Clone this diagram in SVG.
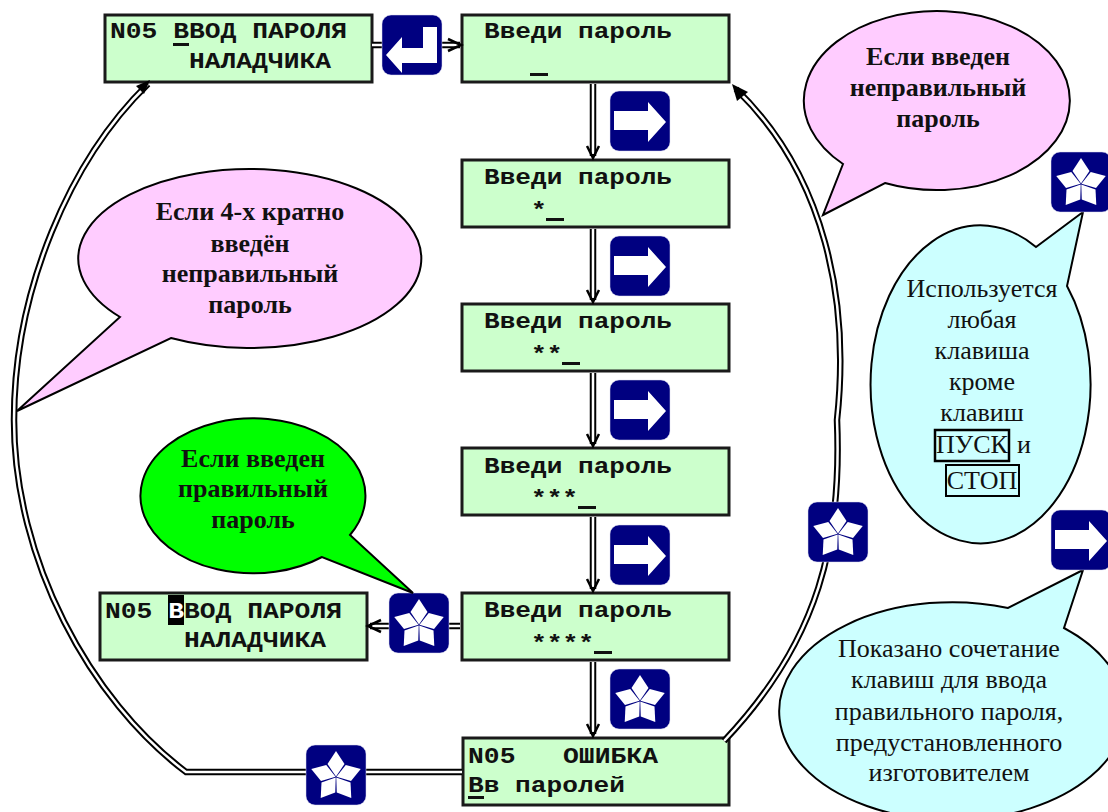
<svg xmlns="http://www.w3.org/2000/svg" width="1108" height="812" viewBox="0 0 1108 812">
<style>
.box{fill:#ccffcc;stroke:#1a1a1a;stroke-width:3}
.m{font-family:"Liberation Mono",monospace;font-weight:bold;font-size:22px;fill:#111;white-space:pre}
.b{font-family:"Liberation Serif",serif;font-weight:bold;font-size:26px;fill:#111;text-anchor:middle}
.r{font-family:"Liberation Serif",serif;font-size:26px;fill:#111;text-anchor:middle}
.o{fill:none;stroke:#000;stroke-width:6.5}
.i{fill:none;stroke:#fff;stroke-width:2.5}
.c{stroke:#000;stroke-width:2}
.k{fill:#000080;stroke:#d8d8ee;stroke-width:.5}
.w{fill:#fff}
.h{fill:none;stroke:#000;stroke-width:2.5}
.u{fill:#111}
</style>
<defs>
<g id="star"><rect class="k" x="0" y="0" width="60" height="60" rx="9"/>
<path id="kite" class="w" d="M30 31.5L21.5 19L30 6L38.5 19Z"/>
<use href="#kite" transform="rotate(72 30 32)"/>
<use href="#kite" transform="rotate(144 30 32)"/>
<use href="#kite" transform="rotate(216 30 32)"/>
<use href="#kite" transform="rotate(288 30 32)"/></g>
<g id="right"><rect class="k" x="0" y="0" width="60" height="60" rx="9"/>
<path class="w" d="M4 20H38V11L56 31L38 51V39H4Z"/></g>
<g id="enter"><rect class="k" x="0" y="0" width="60" height="60" rx="9"/>
<path class="w" d="M55 12V48H20V58L4 40L20 22V33H41V12Z"/></g>
</defs>
<g id="n1"><rect class="box" x="105" y="15" width="267" height="67"/>
<text class="m" x="110" y="38" textLength="237" lengthAdjust="spacingAndGlyphs">N05 ВВОД ПАРОЛЯ</text><text class="m" x="189" y="68" textLength="142" lengthAdjust="spacingAndGlyphs">НАЛАДЧИКА</text>
<rect class="u" x="173" y="43" width="16" height="3"/></g>
<g id="n2"><rect class="box" x="462" y="15" width="267" height="67"/>
<text class="m" x="484" y="38" textLength="188" lengthAdjust="spacingAndGlyphs">Введи пароль</text><rect class="u" x="530" y="73" width="18" height="3"/></g>
<g id="n3"><rect class="box" x="462" y="160" width="267" height="67"/>
<text class="m" x="484" y="184" textLength="188" lengthAdjust="spacingAndGlyphs">Введи пароль</text><text class="m" x="531" y="217" textLength="15.7" lengthAdjust="spacingAndGlyphs">*</text><rect class="u" x="546" y="218" width="18" height="3"/></g>
<g id="n4"><rect class="box" x="462" y="304" width="267" height="67"/>
<text class="m" x="484" y="328" textLength="188" lengthAdjust="spacingAndGlyphs">Введи пароль</text><text class="m" x="531" y="361" textLength="31.4" lengthAdjust="spacingAndGlyphs">**</text><rect class="u" x="562" y="362" width="18" height="3"/></g>
<g id="n5"><rect class="box" x="462" y="448" width="267" height="67"/>
<text class="m" x="484" y="473" textLength="188" lengthAdjust="spacingAndGlyphs">Введи пароль</text><text class="m" x="531" y="505" textLength="47" lengthAdjust="spacingAndGlyphs">***</text><rect class="u" x="578" y="506" width="18" height="3"/></g>
<g id="n6"><rect class="box" x="462" y="593" width="267" height="67"/>
<text class="m" x="484" y="617" textLength="188" lengthAdjust="spacingAndGlyphs">Введи пароль</text><text class="m" x="531" y="650" textLength="63" lengthAdjust="spacingAndGlyphs">****</text><rect class="u" x="594" y="651" width="18" height="3"/></g>
<g id="n7"><rect class="box" x="463" y="738" width="266" height="67"/>
<text class="m" x="468" y="763" textLength="190" lengthAdjust="spacingAndGlyphs">N05   ОШИБКА</text><text class="m" x="468" y="792" textLength="157" lengthAdjust="spacingAndGlyphs">Вв паролей</text><rect class="u" x="468" y="796" width="16" height="3"/></g>
<g id="n8"><rect class="box" x="100" y="593" width="267" height="67"/>
<rect x="168" y="595" width="16" height="30" fill="#000"/>
<text class="m" x="105" y="618" textLength="237" lengthAdjust="spacingAndGlyphs">N05 <tspan fill="#fff">В</tspan>ВОД ПАРОЛЯ</text><text class="m" x="184" y="647" textLength="142" lengthAdjust="spacingAndGlyphs">НАЛАДЧИКА</text></g>
<g id="connectors">
<path class="o" d="M148 84C70 160 14 290 14 420C14 560 90 700 186 772H462"/>
<path class="i" d="M148 84C70 160 14 290 14 420C14 560 90 700 186 772H462"/>
<path class="o" d="M724 741C820 640 842 540 837 420C850 300 825 175 736 89"/>
<path class="i" d="M724 741C820 640 842 540 837 420C850 300 825 175 736 89"/>
<path fill="#000" d="M150 80L136 86L144 94Z"/>
<path fill="#000" d="M732 84L737 101L748 92Z"/>
<path class="o" d="M372 45H460M593 84V156M593 229V300M593 373V444M593 517V589M593 662V734M460 626H370"/>
<path class="i" d="M372 45H458M593 84V154M593 229V298M593 373V442M593 517V587M593 662V732M460 626H372"/>
<path class="h" d="M448 39L461 45L448 51M587 146L593 158L599 146M587 290L593 302L599 290M587 434L593 446L599 434M587 579L593 591L599 579M587 724L593 736L599 724M381 620L368 626L381 632"/>
</g>
<g id="keys">
<use href="#enter" x="382" y="15"/>
<use href="#right" x="610" y="91"/>
<use href="#right" x="610" y="236"/>
<use href="#right" x="610" y="380"/>
<use href="#right" x="610" y="525"/>
<use href="#star" x="610" y="669"/>
<use href="#star" x="389" y="593"/>
<use href="#star" x="306" y="745"/>
<use href="#star" x="808" y="502"/>
</g>
<g id="c1"><path class="c" fill="#ffccff" d="M823 215L885 183A133 89.5 0 1 0 843 164Z"/>
<text class="b" x="938" y="65">Если введен</text><text class="b" x="938" y="96">неправильный</text><text class="b" x="938" y="127">пароль</text></g>
<g id="c2"><path class="c" fill="#ffccff" d="M17 411L120 317A171.5 89.5 0 1 1 171 338Z"/>
<text class="b" x="250" y="220">Если 4-х кратно</text><text class="b" x="250" y="252">введён</text><text class="b" x="250" y="282">неправильный</text><text class="b" x="250" y="313">пароль</text></g>
<g id="c3"><path class="c" fill="#00ff00" d="M413 593L322 557A112.5 77.5 0 1 1 350 535Z"/>
<text class="b" x="253" y="467">Если введен</text><text class="b" x="253" y="497">правильный</text><text class="b" x="253" y="528">пароль</text></g>
<g id="c4"><path class="c" fill="#ccffff" d="M1083 212L1036 247A110 159 0 1 0 1067 286Z"/>
<text class="r" x="982" y="297">Используется</text><text class="r" x="982" y="328">любая</text><text class="r" x="982" y="359">клавиша</text><text class="r" x="982" y="390">кроме</text><text class="r" x="982" y="421">клавиш</text>
<text class="r" x="972" y="453">ПУСК</text><text class="r" x="1024" y="453">и</text><text class="r" x="982" y="489">СТОП</text>
<rect x="935" y="430" width="74" height="31" fill="none" stroke="#000" stroke-width="2.5"/>
<rect x="946" y="465" width="73" height="31" fill="none" stroke="#000" stroke-width="2"/></g>
<g id="c5"><path class="c" fill="#ccffff" d="M1083 570L1008 608A173 109 0 1 0 1064 628Z"/>
<text class="r" x="949" y="657">Показано сочетание</text><text class="r" x="949" y="688">клавиш для ввода</text><text class="r" x="949" y="720">правильного пароля,</text><text class="r" x="949" y="751">предустановленного</text><text class="r" x="949" y="781">изготовителем</text></g>
<g id="keys2"><use href="#star" x="1051" y="152"/><use href="#right" x="1051" y="510"/></g>
</svg>
